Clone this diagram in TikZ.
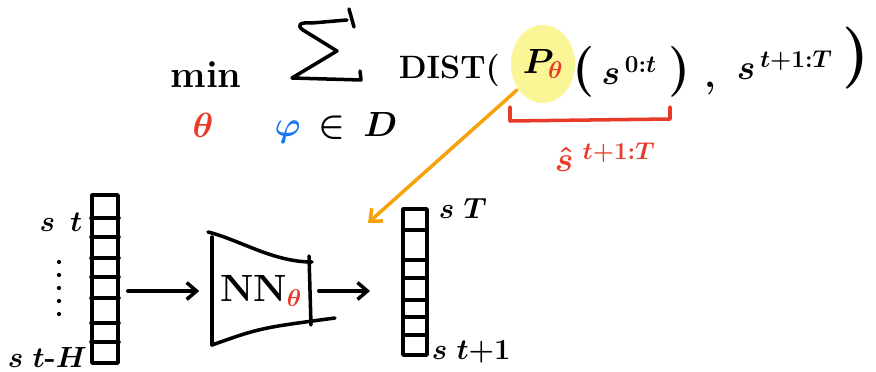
\documentclass[tikz,border=0pt]{standalone}
\usetikzlibrary{positioning,arrows.meta,shapes.geometric}
\definecolor{inkred}{RGB}{232,58,40}
\definecolor{inkblue}{RGB}{25,120,240}
\definecolor{inkorange}{RGB}{246,162,12}
\definecolor{hilite}{RGB}{250,246,150}
\tikzset{
  >={Straight Barb[length=7pt,width=12pt]}   % open hand-drawn heads
}
\newcommand{\tallpar}[1]{{\fontsize{36}{40}\selectfont#1}}

\begin{document}
\begin{tikzpicture}[x=0.025cm,y=-0.025cm,line width=2.5pt,line cap=round,line join=round,
	big/.style={font=\fontsize{27}{30}\selectfont\bfseries\boldmath,inner sep=0pt},
	small/.style={font=\fontsize{21}{24}\selectfont\bfseries\boldmath,inner sep=0pt},
	vec/.style={draw,inner sep=0pt,minimum width=0.65cm}]
	\useasboundingbox (0,0) rectangle (876,372);

	% objective
	\node[big,anchor=base] (minop) at (206,88) {min};
	\node[big,anchor=base,text=inkred] (argth) at (203,138) {$\theta$};
	% sigma
	\draw (303,30) .. controls (296,25) and (300,22) .. (312,23) -- (347,20);
	\draw (349,9) -- (354,27);
	\draw (303,30) -- (337,51) -- (292,78) -- (361,80) -- (360,71);
	\node[big,anchor=base] (dataset) at (336,137) {$\textcolor{inkblue}{\varphi}\,\in\, D$};
	\node[big,font=\fontsize{23}{26}\selectfont\bfseries,anchor=base west] (dist) at (397,79) {DIST(};
	\node[big,ellipse,fill=hilite,minimum width=1.6cm,minimum height=1.95cm] (pred) at (543,64)
		{$P_{\textcolor{inkred}{\theta}}$};
	\node[big,anchor=base west] (hist) at (571,85) {\tallpar{(}$\,s^{\,0:t}\;$\tallpar{)}};
	\node[big,anchor=base] (comma) at (710,88) {,};
	\node[big,anchor=base west] (target) at (735,80) {$s^{\,t+1:T}$};
	\node[font=\fontsize{44}{48}\selectfont\bfseries,inner sep=0pt] (close) at (856,58) {)};

	% prediction
	\draw[inkred] (510,107) -- (510,121) -- (670,119) -- (670,107);
	\node[big,anchor=base west,text=inkred] (shat) at (553,172)
		{$\hat{s}^{\,\,t+1:T}$};

	% network
	\node[vec,minimum height=4.2cm] (past) at (105,279) {};
	\foreach \y in {218,237,258,277,298,323,342}
		\draw (91,\y) -- (119,\y);
	\node[small,anchor=east] (pastTop) at (84,222) {$s\;\,t$};
	\node[small,anchor=west] (pastEnd) at (6,357) {$s\;t\mbox{-}H$};
	\foreach \y in {262,275,288,301,314}
		\fill (59,\y) circle (1.5pt);

	\node[big,minimum width=2.5cm,minimum height=2.2cm] (nn) at (261,291) {NN$_{\textcolor{inkred}{\theta}}$};
	\draw (212,237) -- (212,345);
	\draw (208,232) .. controls (240,240) and (273,262) .. (312,262);
	\draw (309,256) -- (311,325);
	\draw (212,345) .. controls (260,328) .. (335,318);

	\node[vec,minimum width=0.6cm,minimum height=3.65cm] (future) at (415,282) {};
	\foreach \y in {230,260,278,300,317,335}
		\draw (403,\y) -- (427,\y);
	\node[small,anchor=west] (futEnd) at (437,208) {$s\;T$};
	\node[small,anchor=west] (futStart) at (430,352) {$s\;t{+}1$};

	\draw[->,shorten <=0.2cm,shorten >=0.25cm] (past.east |- nn.west) -- (nn.west);
	\draw[->,shorten <=0.15cm,shorten >=0.78cm] (nn.east) -- (nn.east -| future.west);

	% link
	\coordinate (hit) at (368,223);
	\draw[->,inkorange] (pred.225) -- (hit);
\end{tikzpicture}
\end{document}
